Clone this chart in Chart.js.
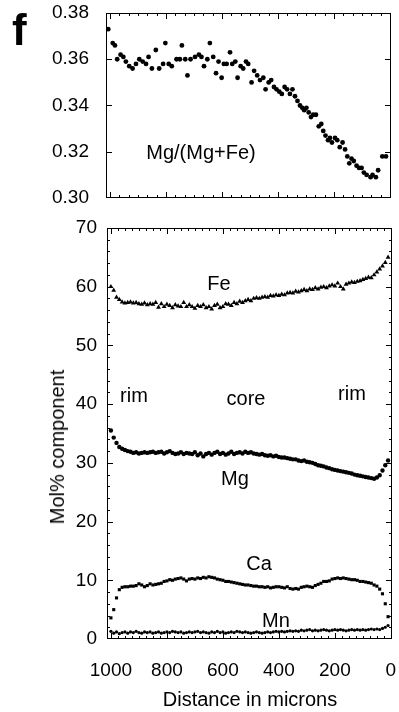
<!DOCTYPE html>
<html>
<head>
<meta charset="utf-8">
<script src="https://cdn.jsdelivr.net/npm/chart.js@4"></script>
<style>
  * { box-sizing: border-box; }
  body {
    margin: 0;
    width: 399px;
    height: 712px;
    background: #ffffff;
    font-family: "Liberation Sans", Arial, sans-serif;
    color: #000;
    overflow: hidden;
  }
  .page { position: relative; width: 399px; height: 712px; }
  .panel { position: absolute; left: 0; width: 399px; }
  #topPanel { top: 0; height: 210px; }
  #bottomPanel { top: 214px; height: 498px; }
  .lbl {
    position: absolute;
    transform: translate(-50%, -50%);
    white-space: nowrap;
    font-size: 20px;
    line-height: 1;
  }
  .letter {
    position: absolute;
    left: 12px;
    top: 8px;
    font-size: 44px;
    font-weight: 700;
    line-height: 1;
  }
  .ytitle {
    position: absolute;
    left: 57px;
    top: 447px;
    transform: translate(-50%, -50%) rotate(-90deg);
    font-size: 20px;
    white-space: nowrap;
    line-height: 1;
  }
</style>
</head>
<body>
<div class="page">
  <div class="panel" id="topPanel"><canvas id="ratioChart"></canvas></div>
  <div class="panel" id="bottomPanel"><canvas id="molChart"></canvas></div>

  <div class="letter">f</div>
  <div class="lbl" style="left:201px;top:152px;">Mg/(Mg+Fe)</div>
  <div class="lbl" style="left:219px;top:283px;">Fe</div>
  <div class="lbl" style="left:134px;top:395px;">rim</div>
  <div class="lbl" style="left:246px;top:398px;">core</div>
  <div class="lbl" style="left:352px;top:393px;">rim</div>
  <div class="lbl" style="left:235px;top:478px;">Mg</div>
  <div class="lbl" style="left:259px;top:563px;">Ca</div>
  <div class="lbl" style="left:276px;top:620px;">Mn</div>
  <div class="ytitle">Mol% component</div>
  <div class="lbl" style="left:250px;top:699px;">Distance in microns</div>
</div>

<script>
// distance ticks (microns), shared by both panels
const xTicks = [1000, 800, 600, 400, 200, 0];
const ratioTicks = [0.30, 0.32, 0.34, 0.36, 0.38];
const molTicks = [0, 10, 20, 30, 40, 50, 60, 70];

// upper panel: Mg/(Mg+Fe)
const topDistance = [
  1006, 990, 982, 974, 962, 952, 943, 931, 919, 907,
  895, 883, 871, 862, 850, 836, 824, 810, 802, 790,
  779, 762, 750, 743, 731, 723, 712, 696, 682, 673,
  664, 652, 643, 631, 621, 612, 601, 593, 583, 571,
  563, 552, 544, 533, 524, 514, 506, 494, 485, 474,
  464, 452, 444, 433, 424, 414, 405, 395, 386, 376,
  367, 357, 348, 339, 330, 321, 313, 306, 298, 290,
  282, 274, 264, 254, 245, 238, 230, 221, 214, 207,
  196, 188, 179, 169, 160, 152, 145, 137, 129, 119,
  110, 101, 93, 83, 69, 62, 50, 42, 27, 14
];
const topRatio = [
  0.373, 0.367, 0.366, 0.360, 0.362, 0.361, 0.359, 0.357, 0.356, 0.358,
  0.360, 0.359, 0.358, 0.361, 0.356, 0.364, 0.356, 0.358, 0.367, 0.358,
  0.357, 0.360, 0.360, 0.366, 0.360, 0.353, 0.360, 0.361, 0.362, 0.361,
  0.357, 0.360, 0.367, 0.361, 0.354, 0.359, 0.352, 0.358, 0.358, 0.363,
  0.358, 0.359, 0.352, 0.357, 0.356, 0.359, 0.358, 0.350, 0.355, 0.353,
  0.351, 0.352, 0.347, 0.350, 0.351, 0.348, 0.347, 0.346, 0.345, 0.348,
  0.347, 0.345, 0.347, 0.344, 0.342, 0.340, 0.339, 0.338, 0.339, 0.337,
  0.335, 0.336, 0.336, 0.331, 0.332, 0.329, 0.327, 0.325, 0.326, 0.324,
  0.326, 0.325, 0.322, 0.324, 0.321, 0.318, 0.315, 0.317, 0.316, 0.314,
  0.313, 0.313, 0.311, 0.310, 0.309, 0.310, 0.309, 0.312, 0.318, 0.318
];

// lower panel: mol% profiles
const distance = [
  1000, 990, 980, 970, 960, 950, 940, 930, 920, 910,
  900, 890, 880, 870, 860, 850, 840, 830, 820, 810,
  800, 790, 780, 770, 760, 750, 740, 730, 720, 710,
  700, 690, 680, 670, 660, 650, 640, 630, 620, 610,
  600, 590, 580, 570, 560, 550, 540, 530, 520, 510,
  500, 490, 480, 470, 460, 450, 440, 430, 420, 410,
  400, 390, 380, 370, 360, 350, 340, 330, 320, 310,
  300, 290, 280, 270, 260, 250, 240, 230, 220, 210,
  200, 190, 180, 170, 160, 150, 140, 130, 120, 110,
  100, 90, 80, 70, 60, 50, 40, 30, 20, 10
];
const feValues = [
  60.0, 59.4, 58.2, 57.8, 57.4, 57.2, 57.3, 57.4, 57.2, 57.3,
  57.1, 57.0, 57.2, 56.9, 57.1, 57.0, 57.3, 56.5, 57.1, 56.6,
  57.0, 56.8, 56.4, 56.9, 56.7, 56.6, 57.3, 56.6, 56.9, 56.6,
  56.3, 56.8, 56.6, 56.9, 56.4, 56.6, 56.2, 56.8, 57.0, 56.4,
  56.6, 57.1, 57.0, 56.8, 57.3, 57.1, 57.5, 57.3, 57.6, 57.8,
  57.6, 58.0, 58.1, 58.0, 58.2, 58.3, 58.2, 58.5, 58.4, 58.6,
  58.5, 58.7, 58.6, 58.9, 59.0, 58.9, 59.2, 59.1, 59.3, 59.5,
  59.3, 59.6, 59.5, 59.8, 59.6, 59.9, 60.0, 59.8, 60.1, 60.3,
  60.1, 60.6, 60.0, 59.6, 60.4, 60.6, 60.8, 60.7, 60.9, 61.0,
  61.2, 61.4, 61.6, 61.5, 62.0, 62.5, 63.0, 63.5, 64.1, 65.0
];
const mgValues = [
  35.5, 34.3, 33.4, 32.7, 32.4, 32.2, 32.0, 31.9, 31.7, 31.8,
  31.6, 31.7, 31.8, 31.7, 31.8, 31.9, 31.7, 31.8, 31.9, 31.6,
  31.8, 32.0, 31.7, 31.5, 31.6, 31.8, 31.5, 31.7, 31.6, 31.5,
  31.8, 31.3, 31.6, 31.1, 31.5, 31.7, 31.4, 31.7, 31.9, 31.5,
  31.7, 31.4, 31.6, 31.9, 31.5, 31.7, 31.8, 31.6, 31.9, 31.7,
  31.8, 31.6, 31.5, 31.4, 31.5, 31.3, 31.2, 31.3, 31.1, 31.2,
  31.0, 30.9, 30.9, 30.8, 30.7, 30.6, 30.6, 30.4, 30.3, 30.4,
  30.2, 30.1, 30.0, 29.8, 29.6, 29.5, 29.4, 29.2, 29.1, 28.9,
  28.8, 28.7, 28.6, 28.5, 28.4, 28.3, 28.2, 28.0, 27.9, 27.8,
  27.7, 27.6, 27.5, 27.4, 27.3, 27.5, 27.9, 28.7, 29.6, 30.4
];
const caValues = [
  3.6, 5.0, 7.0, 8.4, 8.8, 8.9, 8.9, 9.0, 9.0, 9.1,
  9.4, 9.2, 8.9, 9.1, 9.4, 9.2, 9.3, 9.4, 9.5, 9.8,
  9.9, 10.1, 10.0, 10.2, 10.3, 10.4, 10.2, 9.9, 10.2, 10.3,
  10.2, 10.4, 10.3, 10.5, 10.4, 10.6, 10.5, 10.4, 10.2, 10.1,
  10.0, 9.8, 9.8, 9.7, 9.6, 9.5, 9.4, 9.3, 9.2, 9.2,
  9.1, 9.0, 9.0, 8.9, 8.9, 8.8, 8.9, 8.7, 8.8, 8.9,
  8.9, 8.8, 8.7, 8.9, 8.6, 8.5, 8.6, 8.5, 8.8, 8.9,
  9.0, 8.9, 8.8, 9.1, 9.3, 9.5, 9.8, 9.8, 9.9, 10.2,
  10.3, 10.4, 10.3, 10.4, 10.3, 10.2, 10.1, 10.1, 10.0, 9.8,
  9.8, 9.7, 9.6, 9.5, 9.2, 9.0, 8.5, 7.7, 6.0, 3.8
];
const mnValues = [
  1.3, 1.0, 1.2, 0.9, 1.1, 1.2, 1.0, 1.2, 1.1, 1.3,
  1.1, 1.0, 1.2, 1.1, 1.2, 1.0, 1.1, 1.2, 1.0, 1.1,
  1.2, 1.1, 1.3, 1.2, 1.1, 1.2, 1.0, 1.1, 1.2, 1.1,
  1.2, 1.3, 1.1, 1.2, 1.1, 1.0, 1.2, 1.1, 1.3, 1.1,
  1.2, 1.0, 1.1, 1.2, 1.1, 1.3, 1.2, 1.1, 1.2, 1.1,
  1.0, 1.1, 1.2, 1.1, 1.0, 1.1, 1.2, 1.1, 1.2, 1.3,
  1.2, 1.3, 1.2, 1.3, 1.4, 1.3, 1.4, 1.3, 1.5, 1.4,
  1.5, 1.6, 1.4, 1.5, 1.4, 1.5, 1.6, 1.5, 1.4, 1.5,
  1.6, 1.5, 1.6, 1.5, 1.4, 1.5, 1.6, 1.5, 1.6, 1.5,
  1.6, 1.5, 1.6, 1.7, 1.6, 1.7, 1.6, 1.8, 2.0, 2.3
];

const FONT = "'Liberation Sans', Arial, sans-serif";

function pairs(xs, ys) {
  return xs.map((x, i) => ({ x, y: ys[i] }));
}

function stepsBetween(lo, hi, step) {
  const out = [];
  for (let v = lo; v <= hi + 1e-9; v += step) out.push(v);
  return out;
}

// frame box plus inward tick marks on all four sides
const frameTicks = {
  id: "frameTicks",
  afterDraw(chart, args, opts) {
    const { ctx, chartArea: a } = chart;
    const xs = chart.scales.x;
    const ys = chart.scales.y;
    ctx.save();
    ctx.strokeStyle = "#000";
    ctx.lineWidth = 1;
    ctx.strokeRect(a.left + 0.5, a.top + 0.5, a.right - a.left - 1, a.bottom - a.top - 1);
    ctx.beginPath();
    const xMark = (v, len) => {
      const p = Math.round(xs.getPixelForValue(v)) + 0.5;
      if (p < a.left || p > a.right) return;
      ctx.moveTo(p, a.bottom); ctx.lineTo(p, a.bottom - len);
      ctx.moveTo(p, a.top); ctx.lineTo(p, a.top + len);
    };
    const yMark = (v, len) => {
      const p = Math.round(ys.getPixelForValue(v)) + 0.5;
      if (p < a.top || p > a.bottom) return;
      ctx.moveTo(a.left, p); ctx.lineTo(a.left + len, p);
      ctx.moveTo(a.right, p); ctx.lineTo(a.right - len, p);
    };
    opts.xMinor.forEach(v => xMark(v, 3));
    opts.xMajor.forEach(v => xMark(v, 6));
    opts.yMinor.forEach(v => yMark(v, 3));
    opts.yMajor.forEach(v => yMark(v, 6));
    ctx.stroke();
    ctx.restore();
  }
};

// pin the plot box: fixed axis sizes, no label overflow padding
function baseScales(yTicks, yMin, yMax, yWidth, yPad, xHeight, showX, yFmt) {
  return {
    x: {
      type: "linear",
      reverse: true,
      min: -4,
      max: 1014,
      grid: { display: false, drawTicks: false },
      border: { display: false },
      afterBuildTicks: s => { s.ticks = xTicks.map(v => ({ value: v })); },
      afterFit: s => {
        s.height = xHeight;
        s.paddingLeft = 0;
        s.paddingRight = 0;
      },
      ticks: {
        display: showX,
        padding: 20,
        maxRotation: 0,
        autoSkip: false,
        color: "#000",
        font: { family: FONT, size: 19 },
        callback: v => String(v)
      }
    },
    y: {
      min: yMin,
      max: yMax,
      grid: { display: false, drawTicks: false },
      border: { display: false },
      afterBuildTicks: s => { s.ticks = yTicks.map(v => ({ value: v })); },
      afterFit: s => {
        s.width = yWidth;
        s.paddingTop = 0;
        s.paddingBottom = 0;
      },
      ticks: {
        padding: yPad,
        autoSkip: false,
        color: "#000",
        font: { family: FONT, size: 19 },
        callback: yFmt
      }
    }
  };
}

const common = {
  responsive: false,
  animation: false,
  events: [],
  plugins: { legend: { display: false }, tooltip: { enabled: false } }
};

function makeCanvas(id, w, h) {
  const c = document.getElementById(id);
  c.width = w;
  c.height = h;
  c.style.width = w + "px";
  c.style.height = h + "px";
  return c;
}

new Chart(makeCanvas("ratioChart", 399, 210), {
  type: "scatter",
  data: {
    datasets: [{
      data: pairs(topDistance, topRatio),
      pointStyle: "circle",
      pointRadius: 2.4,
      backgroundColor: "#000",
      borderColor: "#000",
      borderWidth: 0
    }]
  },
  options: {
    ...common,
    layout: { padding: { left: 0, right: 8, top: 13, bottom: 0 } },
    scales: baseScales(ratioTicks, 0.30, 0.38, 106, 17, 12, false, v => v.toFixed(2)),
    plugins: {
      ...common.plugins,
      frameTicks: {
        xMajor: xTicks,
        xMinor: stepsBetween(0, 1000, 200 / 6),
        yMajor: ratioTicks,
        yMinor: []
      }
    }
  },
  plugins: [frameTicks]
});

new Chart(makeCanvas("molChart", 399, 498), {
  type: "scatter",
  data: {
    datasets: [
      {
        label: "Fe",
        data: pairs(distance, feValues),
        pointStyle: "triangle",
        pointRadius: 2.8,
        backgroundColor: "#000",
        borderColor: "#000",
        borderWidth: 0
      },
      {
        label: "Mg",
        data: pairs(distance, mgValues),
        pointStyle: "circle",
        pointRadius: 2.2,
        backgroundColor: "#000",
        borderColor: "#000",
        borderWidth: 0
      },
      {
        label: "Ca",
        data: pairs(distance, caValues),
        pointStyle: "rect",
        pointRadius: 2.2,
        backgroundColor: "#000",
        borderColor: "#000",
        borderWidth: 0
      },
      {
        label: "Mn",
        data: pairs(distance, mnValues),
        pointStyle: "circle",
        pointRadius: 1.6,
        backgroundColor: "#000",
        borderColor: "#000",
        borderWidth: 0
      }
    ]
  },
  options: {
    ...common,
    layout: { padding: { left: 0, right: 7, top: 14, bottom: 0 } },
    scales: baseScales(molTicks, 0, 70, 107, 10, 73, true, v => String(v)),
    plugins: {
      ...common.plugins,
      frameTicks: {
        xMajor: xTicks,
        xMinor: stepsBetween(0, 1000, 25),
        yMajor: molTicks,
        yMinor: stepsBetween(0, 70, 2)
      }
    }
  },
  plugins: [frameTicks]
});
</script>
</body>
</html>
